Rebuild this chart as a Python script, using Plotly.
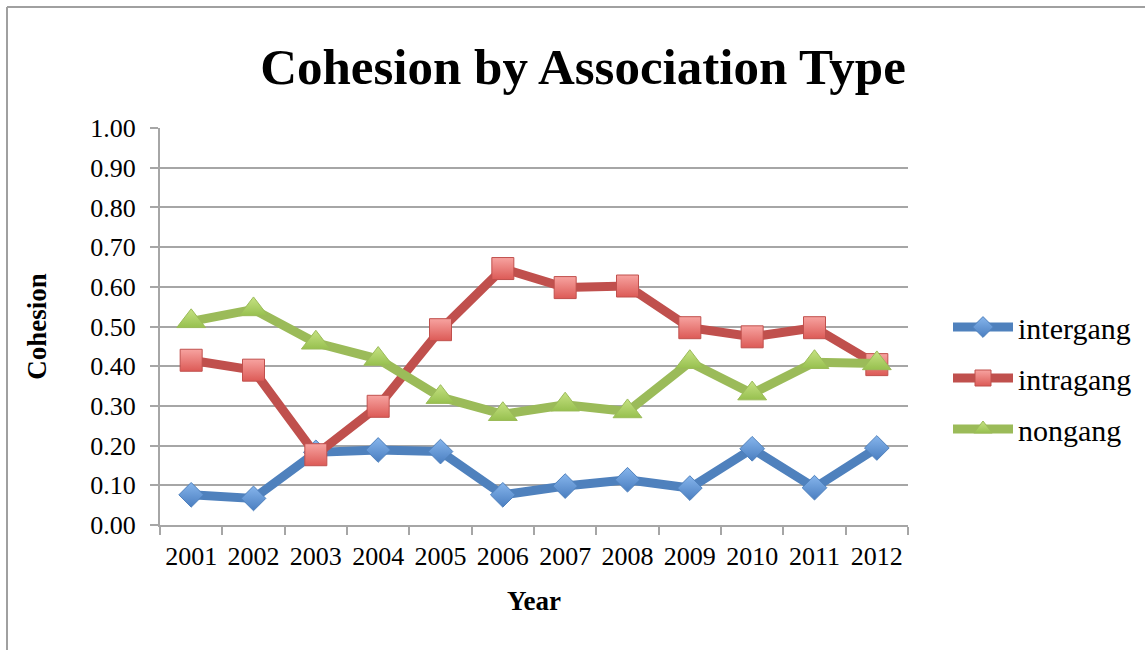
import plotly.graph_objects as go

# Cohesion values per year for each association type
years = ["2001", "2002", "2003", "2004", "2005", "2006",
         "2007", "2008", "2009", "2010", "2011", "2012"]
intergang = [0.076, 0.067, 0.183, 0.189, 0.185, 0.076,
             0.098, 0.114, 0.093, 0.192, 0.094, 0.194]
intragang = [0.415, 0.390, 0.177, 0.299, 0.492, 0.646,
             0.598, 0.602, 0.497, 0.474, 0.497, 0.404]
nongang = [0.513, 0.543, 0.459, 0.418, 0.322, 0.279,
           0.303, 0.286, 0.410, 0.331, 0.410, 0.407]
y_ticks = [0.0, 0.1, 0.2, 0.3, 0.4, 0.5, 0.6, 0.7, 0.8, 0.9, 1.0]

FONT = "Liberation Serif"
GRID = "#a6a6a6"

series = [
    ("intergang", intergang, "#4f81bd", "#86b5ec", "#4a7ec0", "diamond", 19),
    ("intragang", intragang, "#c0504d", "#f7a3a0", "#dc5a56", "square", 22),
    ("nongang", nongang, "#9bbb59", "#c6e283", "#97c04f", "triangle-up", 25),
]

fig = go.Figure()
for name, vals, line_c, fill_top, fill_bot, symbol, size in series:
    fig.add_trace(go.Scatter(
        x=years, y=vals, name=name, mode="lines+markers",
        legendgroup=name,
        line=dict(color=line_c, width=9),
        marker=dict(symbol=symbol, size=size, color=fill_top,
                    gradient=dict(type="vertical", color=fill_bot),
                    line=dict(color=line_c, width=1)),
    ))

W, H = 1145, 650
L, R, T, B = 160, 237, 128, 125
pw, ph = W - L - R, H - T - B


def px_x(x):
    return (x - L) / pw


def px_y(y):
    return (H - B - y) / ph


fig.update_layout(
    width=W, height=H,
    margin=dict(l=L, r=R, t=T, b=B, autoexpand=False),
    paper_bgcolor="white", plot_bgcolor="white",
    font=dict(family=FONT, color="black", size=26),
    title=dict(text="<b>Cohesion by Association Type</b>",
               x=583 / W, xanchor="center", y=1 - 66 / H, yanchor="middle",
               font=dict(family=FONT, size=51, color="black")),
    xaxis=dict(
        type="category", tickson="boundaries", range=[-0.5, 11.5],
        showgrid=False, showline=True, linecolor=GRID, linewidth=2,
        ticks="outside", ticklen=8, tickcolor=GRID, tickwidth=2,
        tickfont=dict(size=26), ticklabelstandoff=7,
        title=dict(text="<b>Year</b>", font=dict(size=27), standoff=21),
    ),
    yaxis=dict(
        range=[0, 1], tickvals=y_ticks, tickformat=".2f",
        showgrid=True, gridcolor=GRID, gridwidth=2,
        showline=True, linecolor=GRID, linewidth=2,
        ticks="outside", ticklen=8, tickcolor=GRID, tickwidth=2,
        tickfont=dict(size=26), zeroline=False, ticklabelstandoff=9,
        title=dict(text="<b>Cohesion</b>", font=dict(size=27), standoff=36),
    ),
    legend=dict(x=px_x(948), xanchor="left", y=px_y(378), yanchor="middle",
                font=dict(size=30), tracegroupgap=9, itemwidth=60,
                bgcolor="rgba(0,0,0,0)"),
    showlegend=True,
    shapes=[
        dict(type="line", xref="paper", yref="paper",
             x0=px_x(7), x1=px_x(7), y0=px_y(7), y1=px_y(H + 10),
             line=dict(color="#a0a0a0", width=2)),
        dict(type="line", xref="paper", yref="paper",
             x0=px_x(7), x1=px_x(W + 10), y0=px_y(7), y1=px_y(7),
             line=dict(color="#a0a0a0", width=2)),
    ],
)

fig.write_html("out.html")
